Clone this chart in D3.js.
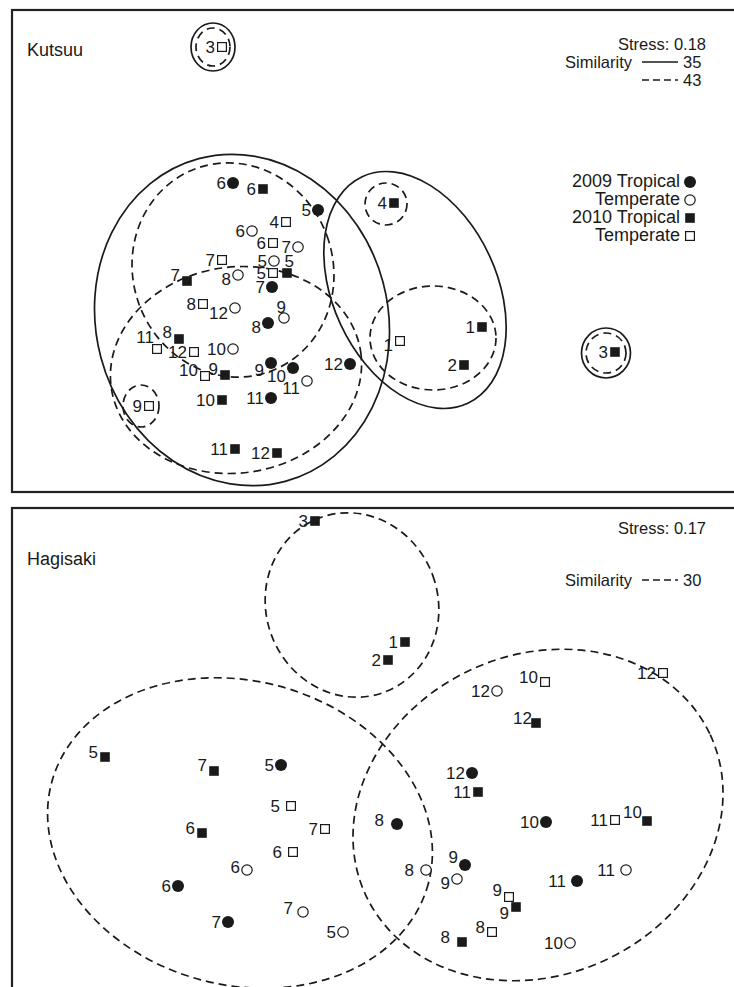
<!DOCTYPE html>
<html>
<head>
<meta charset="utf-8">
<script src="https://cdn.jsdelivr.net/npm/d3@7/dist/d3.min.js"></script>
<style>
  html, body { margin: 0; padding: 0; background: #fff; }
  svg { display: block; }
  text { font-family: "Liberation Sans", Arial, Helvetica, sans-serif; fill: #1a1a1a; }
</style>
</head>
<body>
<svg id="chart" width="734" height="987"></svg>
<script>
// ---- Sites, stress values and similarity levels ----
const sites = ["Kutsuu", "Hagisaki"];
const stress = [0.18, 0.17];
const similarityLevels = [[35, 43], [30]];

// Sample groups: year x assemblage type
const groupNames = ["2009 Tropical", "Temperate", "2010 Tropical", "Temperate"];
const groupKeys = ["T09", "M09", "T10", "M10"];

// ---- nMDS ordination scores: [month, MDS1, MDS2] ----
// Kutsuu
const kutsuuT09 = [[6,-1.40,0.68],[5,-0.55,0.41],[7,-1.01,-0.36],[8,-1.05,-0.72],[9,-1.02,-1.12],[10,-0.80,-1.17],[11,-1.02,-1.47],[12,-0.23,-1.13]];
const kutsuuM09 = [[6,-1.21,0.20],[7,-0.75,0.04],[5,-0.99,-0.10],[8,-1.35,-0.24],[12,-1.38,-0.57],[9,-0.89,-0.67],[10,-1.40,-0.98],[11,-0.66,-1.30]];
const kutsuuT10 = [[6,-1.10,0.62],[4,0.21,0.48],[5,-0.86,-0.22],[7,-1.86,-0.30],[8,-1.94,-0.88],[9,-1.48,-1.24],[10,-1.51,-1.49],[11,-1.38,-1.98],[12,-0.96,-2.02],[1,1.09,-0.76],[2,0.91,-1.14],[3,2.42,-1.01]];
const kutsuuM10 = [[3,-1.51,2.04],[4,-0.87,0.29],[6,-1.00,0.08],[7,-1.51,-0.09],[5,-1.00,-0.22],[8,-1.70,-0.53],[11,-2.16,-0.98],[12,-1.79,-1.01],[10,-1.68,-1.25],[9,-2.24,-1.55],[1,0.27,-0.90]];
// Hagisaki
const hagisakiT09 = [[5,-0.92,-0.11],[6,-1.95,-1.32],[7,-1.45,-1.68],[8,0.24,-0.70],[9,0.92,-1.11],[10,1.73,-0.68],[11,2.04,-1.27],[12,0.99,-0.19]];
const hagisakiM09 = [[5,-0.30,-1.78],[6,-1.26,-1.16],[7,-0.70,-1.58],[8,0.53,-1.16],[9,0.84,-1.25],[10,1.97,-1.89],[11,2.53,-1.16],[12,1.24,0.63]];
const hagisakiT10 = [[1,0.32,1.12],[2,0.15,0.94],[3,-0.58,2.33],[5,-2.68,-0.03],[6,-1.71,-0.79],[7,-1.59,-0.17],[8,0.89,-1.88],[9,1.43,-1.53],[10,2.74,-0.67],[11,1.05,-0.38],[12,1.63,0.31]];
const hagisakiM10 = [[5,-0.82,-0.52],[6,-0.80,-0.98],[7,-0.48,-0.75],[8,1.19,-1.78],[9,1.36,-1.43],[10,1.72,0.72],[11,2.42,-0.66],[12,2.90,0.81]];

// ---- Cluster outlines at each similarity level: [similarity, centre MDS1, centre MDS2, radius1, radius2, tilt°] ----
const kutsuuClusters = [
  [35,-1.31,-0.69,1.46,1.67,-15],
  [43,-1.40,-0.19,1.00,1.08,-20],
  [43,-1.37,-1.19,1.26,1.03,-8],
  [35, 0.42,-0.39,0.82,1.25,-25],
  [43, 0.60,-0.87,0.63,0.52,0],
  [43, 0.13, 0.47,0.21,0.21,0],
  [43,-2.32,-1.55,0.18,0.21,0],
  [35,-1.60, 2.04,0.22,0.24,0],
  [43,-1.60, 2.04,0.17,0.19,0],
  [35, 2.33,-1.02,0.245,0.25,0],
  [43, 2.33,-1.02,0.20,0.20,0]
];
const hagisakiClusters = [
  [30,-0.21, 1.49,0.86,0.93,-20],
  [30,-1.33,-0.79,1.95,1.52,15],
  [30, 1.65,-0.61,1.90,1.60,-25]
];

const panelPoints = [
  [kutsuuT09, kutsuuM09, kutsuuT10, kutsuuM10],
  [hagisakiT09, hagisakiM09, hagisakiT10, hagisakiM10]
];
const panelClusters = [kutsuuClusters, hagisakiClusters];

// Hand placement of crowded month labels (pixel offsets from the default left-of-marker spot)
const labelNudge = {
  "0-T10-5": [14,-12], "0-T10-7": [0,-6], "0-M09-8": [0,4], "0-M09-12": [0,5],
  "0-M09-9": [9,-11], "0-T09-8": [0,4], "0-T10-8": [0,-7], "0-M10-11": [4,-12],
  "0-M10-10": [0,-6], "0-T10-9": [0,-6], "0-T09-9": [0,7], "0-T09-10": [0,8],
  "0-M09-11": [0,7], "0-M10-1": [0,4],
  "1-M10-10": [0,-5], "1-T10-12": [3,-5], "1-T10-10": [2,-9], "1-T09-9": [0,-8],
  "1-M09-9": [0,4], "1-M10-9": [0,-7], "1-T10-9": [0,6], "1-M10-8": [0,-5],
  "1-M09-8": [-5,0], "1-T09-8": [-6,-4], "1-M09-11": [-4,0], "1-T09-11": [-4,0],
  "1-M10-5": [-4,0], "1-M10-6": [-4,0], "1-M09-6": [0,-3], "1-M09-7": [-3,-4],
  "1-T10-8": [-5,-5], "1-T10-6": [0,-5], "1-T10-7": [0,-6], "1-T10-5": [0,-5]
};

// ---- Layout ----
const svg = d3.select("#chart");
const frames = [
  { x0: 12, x1: 742, y0: 10, y1: 492, yc: 251, titleY: 50, stressY: 44, keyY: 62 },
  { x0: 12, x1: 742, y0: 508, y1: 1000, yc: 754, titleY: 559, stressY: 528, keyY: 580 }
];
const ink = "#1a1a1a";
const dash = "8,5";

function drawMarker(g, key, cx, cy) {
  if (key === "T09") g.append("circle").attr("cx", cx).attr("cy", cy).attr("r", 6).attr("fill", ink);
  else if (key === "M09") g.append("circle").attr("cx", cx).attr("cy", cy).attr("r", 5.2)
      .attr("fill", "#fff").attr("stroke", ink).attr("stroke-width", 1.2);
  else if (key === "T10") g.append("rect").attr("x", cx - 4.8).attr("y", cy - 4.8).attr("width", 9.6).attr("height", 9.6).attr("fill", ink);
  else g.append("rect").attr("x", cx - 4.4).attr("y", cy - 4.4).attr("width", 8.8).attr("height", 8.8)
      .attr("fill", "#fff").attr("stroke", ink).attr("stroke-width", 1.2);
}

frames.forEach((f, p) => {
  const g = svg.append("g");
  const cxMid = 373;
  // 100 px per ordination unit, centred on the panel
  const x = d3.scaleLinear().domain([(f.x0 - cxMid) / 100, (f.x1 - cxMid) / 100]).range([f.x0, f.x1]);
  const y = d3.scaleLinear().domain([(f.yc - f.y0) / 100, (f.yc - f.y1) / 100]).range([f.y0, f.y1]);

  // frame
  g.append("rect").attr("x", f.x0).attr("y", f.y0).attr("width", f.x1 - f.x0).attr("height", f.y1 - f.y0)
    .attr("fill", "none").attr("stroke", "#222").attr("stroke-width", 2.2);

  // cluster outlines: solid for the lower similarity level when two are shown, dashed otherwise
  const levels = similarityLevels[p];
  g.selectAll("ellipse.cluster").data(panelClusters[p]).join("ellipse")
    .attr("class", "cluster")
    .attr("cx", d => x(d[1])).attr("cy", d => y(d[2]))
    .attr("rx", d => x(d[3]) - x(0)).attr("ry", d => y(0) - y(d[4]))
    .attr("transform", d => `rotate(${d[5]},${x(d[1])},${y(d[2])})`)
    .attr("fill", "none").attr("stroke", ink).attr("stroke-width", 1.7)
    .attr("stroke-dasharray", d => (levels.length === 2 && d[0] === levels[0]) ? null : dash);

  // points + month labels
  panelPoints[p].forEach((series, gi) => {
    const key = groupKeys[gi];
    series.forEach(([m, a, b]) => {
      const px = x(a), py = y(b);
      drawMarker(g, key, px, py);
      const nudge = labelNudge[`${p}-${key}-${m}`] || [0, 0];
      g.append("text").attr("x", px - 7 + nudge[0]).attr("y", py + nudge[1])
        .attr("text-anchor", "end").attr("dominant-baseline", "central")
        .attr("font-size", 17).text(m);
    });
  });

  // title and stress
  g.append("text").attr("x", 27).attr("y", f.titleY).attr("dominant-baseline", "central")
    .attr("font-size", 18).text(sites[p]);
  g.append("text").attr("x", 706).attr("y", f.stressY).attr("text-anchor", "end")
    .attr("dominant-baseline", "central").attr("font-size", 16.5).text(`Stress: ${stress[p].toFixed(2)}`);

  // similarity key
  const ky = f.keyY;
  g.append("text").attr("x", 632).attr("y", ky).attr("text-anchor", "end")
    .attr("dominant-baseline", "central").attr("font-size", 16.5).text("Similarity");
  levels.forEach((lv, i) => {
    const solid = levels.length === 2 && i === 0;
    g.append("line").attr("x1", 642).attr("x2", 678).attr("y1", ky + i * 18).attr("y2", ky + i * 18)
      .attr("stroke", ink).attr("stroke-width", 1.7).attr("stroke-dasharray", solid ? null : "7,4");
    g.append("text").attr("x", 683).attr("y", ky + i * 18).attr("dominant-baseline", "central")
      .attr("font-size", 16.5).text(lv);
  });

  // symbol key (top panel)
  if (p === 0) {
    groupNames.forEach((name, i) => {
      const ly = 181 + i * 18;
      g.append("text").attr("x", 680).attr("y", ly).attr("text-anchor", "end")
        .attr("dominant-baseline", "central").attr("font-size", 18).text(name);
      drawMarker(g, groupKeys[i], 690, ly + 1);
    });
  }
});
</script>
</body>
</html>
